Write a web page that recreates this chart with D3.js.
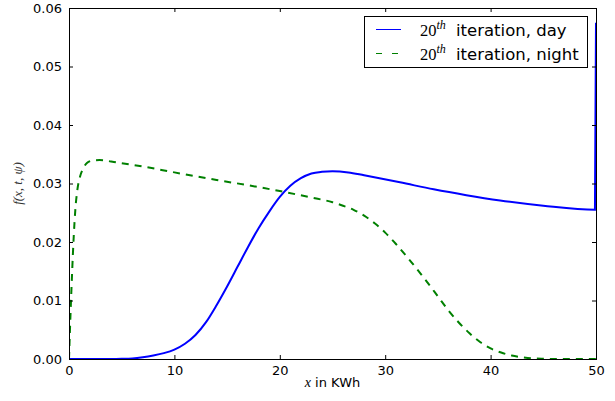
<!DOCTYPE html>
<html>
<head>
<meta charset="utf-8">
<script src="https://cdn.jsdelivr.net/npm/d3@7"></script>
<style>
body{margin:0;background:#fff;}
text{font-family:"DejaVu Sans",sans-serif;}
.math{font-family:"Liberation Serif","DejaVu Serif",serif;font-style:italic;}
</style>
</head>
<body>
<svg id="svg_canvas" width="615" height="401"></svg>
<script>
// values
var day_x=[0,4,5,6,7,8,9,10,11,12,13,14,15,16,17,18,19,20,21,22,23,24,25,26.5,28,31.4,34.6,37.7,40.9,45,49.9,50];
var day_y=[0,0,0.00003,0.0001,0.0003,0.0006,0.0010,0.0016,0.0026,0.0041,0.0063,0.0092,0.0124,0.0158,0.0192,0.0224,0.0252,0.0277,0.0296,0.0309,0.0317,0.0320,0.0321,0.0319,0.0314,0.0302,0.0290,0.0280,0.0271,0.0262,0.0255,0.0575];

var night_x=[0,0.15,0.3,0.45,0.6,0.8,1.05,1.35,1.7,2.2,2.9,4.5,7,10,14,17,20,23,25,26,27,28,29,30,31,32,33,34,35,36,37,38,39,40,41,42,43,44,45,47,50];
var night_y=[0,0.008,0.015,0.021,0.0255,0.029,0.0312,0.0326,0.0335,0.0339,0.0340,0.0336,0.0329,0.0319,0.0306,0.0297,0.0287,0.0276,0.0268,0.0262,0.0255,0.0245,0.0232,0.0216,0.0197,0.0176,0.0154,0.0131,0.0107,0.0083,0.0062,0.0044,0.0029,0.0018,0.0011,0.0006,0.0003,0.0001,0.00004,0,0];

var x_ticks=[0,10,20,30,40,50];
var y_ticks=[0,0.01,0.02,0.03,0.04,0.05,0.06];
var legend_labels=["iteration, day","iteration, night"];

var left_x=69, right_x=596, top_y=8, bottom_y=359;
var tick_len=4;

var svg=d3.select("#svg_canvas");

var x=d3.scaleLinear().domain([0,50]).range([left_x,right_x]);
var y=d3.scaleLinear().domain([0,0.06]).range([bottom_y,top_y]);

var series=[
	{xs:day_x, ys:day_y, color:"#0000ff", dash:null, legend_dash:null},
	{xs:night_x, ys:night_y, color:"#008000", dash:"7,6", legend_dash:"6,10"}
];

svg.append("clipPath").attr("id","plot_clip")
	.append("rect").attr("x",left_x).attr("y",top_y-1).attr("width",right_x-left_x+1).attr("height",bottom_y-top_y+2);

var line=d3.line()
	.x(function(d){return x(d[0]);})
	.y(function(d){return y(d[1]);})
	.curve(d3.curveMonotoneX);

// night first so the day line sits on top
[series[1],series[0]].forEach(function(s){
	var pts=s.xs.map(function(v,i){return [v,s.ys[i]];});
	svg.append("path")
		.attr("d",line(pts))
		.attr("fill","none")
		.attr("stroke",s.color)
		.attr("stroke-width",2)
		.attr("stroke-dasharray",s.dash)
		.attr("clip-path","url(#plot_clip)");
});

// ticks pointing inward on all four sides
var ax_bottom=d3.axisBottom(x).tickValues(x_ticks).tickSizeInner(-tick_len).tickSizeOuter(0).tickPadding(7).tickFormat(d3.format("d"));
var ax_top=d3.axisTop(x).tickValues(x_ticks).tickSizeInner(-tick_len).tickSizeOuter(0).tickFormat("");
var ax_left=d3.axisLeft(y).tickValues(y_ticks).tickSizeInner(-tick_len).tickSizeOuter(0).tickPadding(7).tickFormat(d3.format(".2f"));
var ax_right=d3.axisRight(y).tickValues(y_ticks).tickSizeInner(-tick_len).tickSizeOuter(0).tickFormat("");

function style_axis(g){
	g.select(".domain").remove();
	g.selectAll(".tick line").attr("stroke","#000");
	g.selectAll(".tick text").attr("fill","#000").style("font-size","13px").style("font-family","'DejaVu Sans',sans-serif");
}

svg.append("g").attr("transform","translate(0,"+bottom_y+")").call(ax_bottom).call(style_axis);
svg.append("g").attr("transform","translate(0,"+top_y+")").call(ax_top).call(style_axis);
svg.append("g").attr("transform","translate("+left_x+",0)").call(ax_left).call(style_axis);
svg.append("g").attr("transform","translate("+right_x+",0)").call(ax_right).call(style_axis);

svg.append("rect")
	.attr("x",left_x).attr("y",top_y)
	.attr("width",right_x-left_x).attr("height",bottom_y-top_y)
	.attr("fill","none").attr("stroke","#000").attr("stroke-width",1)
	.attr("shape-rendering","crispEdges");

// axis labels
var xl=svg.append("text").attr("x",(left_x+right_x)/2).attr("y",387)
	.attr("text-anchor","middle").style("font-size","13px").attr("fill","#000");
xl.append("tspan").attr("class","math").style("font-size","14px").text("x");
xl.append("tspan").text(" in KWh");

svg.append("text")
	.attr("transform","translate(22,"+((top_y+bottom_y)/2)+") rotate(-90)")
	.attr("text-anchor","middle")
	.attr("class","math")
	.style("font-size","13px")
	.attr("fill","#333")
	.text("f(x, t, \u03C8)");

// legend
var lg=svg.append("g");
lg.append("rect").attr("x",364.5).attr("y",16.5).attr("width",223).attr("height",51)
	.attr("fill","#fff").attr("stroke","#000").attr("stroke-width",1);

series.forEach(function(s,i){
	var row_y=29.5+i*24;
	lg.append("line").attr("x1",376).attr("x2",401).attr("y1",row_y).attr("y2",row_y)
		.attr("stroke",s.color).attr("stroke-width",1).attr("stroke-dasharray",s.legend_dash);
	var t=lg.append("text").attr("x",420).attr("y",row_y+6).attr("fill","#000");
	t.append("tspan").attr("class","math").style("font-style","normal").style("font-size","16.5px").text("20");
	t.append("tspan").attr("class","math").attr("dy",-7).style("font-size","12px").text("th");
	t.append("tspan").attr("x",456).attr("dy",7).style("font-size","16.5px").text(legend_labels[i]);
});
</script>
</body>
</html>
